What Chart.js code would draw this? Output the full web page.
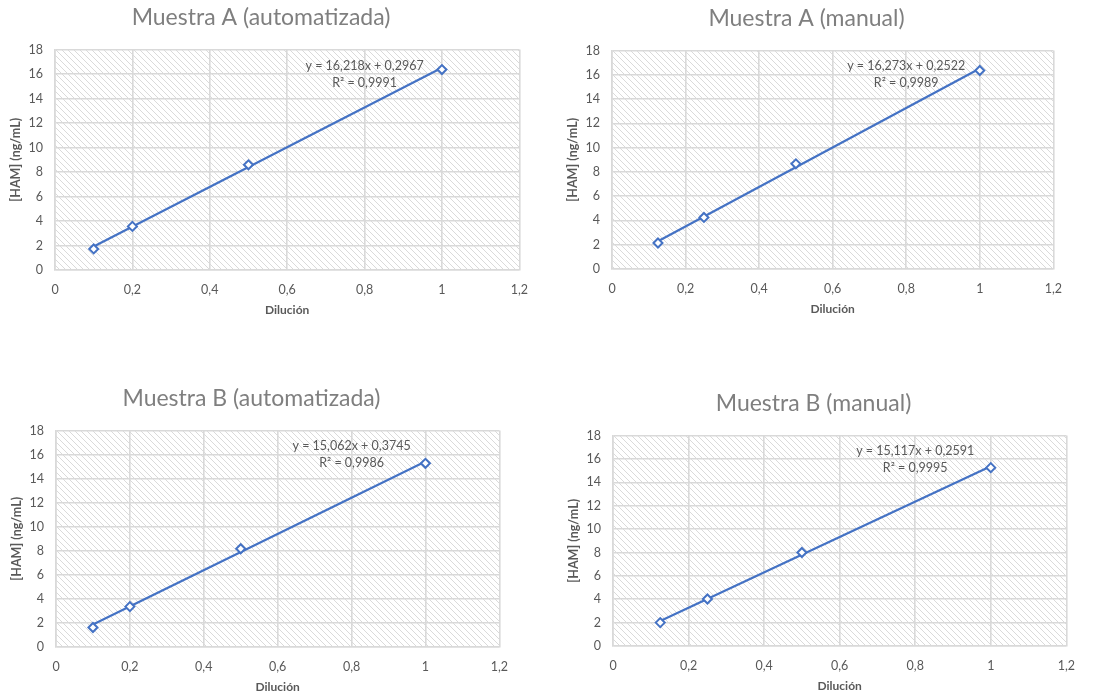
<!DOCTYPE html>
<html>
<head>
<meta charset="utf-8">
<script src="https://cdn.jsdelivr.net/npm/chart.js@4.4.1/dist/chart.umd.min.js"></script>
<style>
  html, body { margin: 0; padding: 0; background: #fff; }
  body { width: 1105px; height: 697px; position: relative; overflow: hidden; }
  .box { position: absolute; }
</style>
</head>
<body>
<div class="box" id="b0" style="left:0px;top:0px;width:540px;height:320px"><canvas id="c0"></canvas></div>
<div class="box" id="b1" style="left:557px;top:1px;width:517px;height:318px"><canvas id="c1"></canvas></div>
<div class="box" id="b2" style="left:1px;top:381px;width:519px;height:316px"><canvas id="c2"></canvas></div>
<div class="box" id="b3" style="left:558px;top:386px;width:529px;height:310px"><canvas id="c3"></canvas></div>
<script>
// datos
const titles = ['Muestra A (automatizada)', 'Muestra A (manual)', 'Muestra B (automatizada)', 'Muestra B (manual)'];
const xTickLabels = ['0', '0,2', '0,4', '0,6', '0,8', '1', '1,2'];
const xTitle = 'Dilución';
const yTitle = '[HAM] (ng/mL)';

const dilAuto = [0.1, 0.2, 0.5, 1];
const dilManual = [0.125, 0.25, 0.5, 1];

const hamAAuto = [1.72, 3.56, 8.59, 16.37];
const hamAManual = [2.14, 4.25, 8.67, 16.36];
const hamBAuto = [1.62, 3.36, 8.17, 15.28];
const hamBManual = [2.0, 4.02, 8.0, 15.26];

const slopes = [16.218, 16.273, 15.062, 15.117];
const intercepts = [0.2967, 0.2522, 0.3745, 0.2591];
const eqLabels = ['y = 16,218x + 0,2967', 'y = 16,273x + 0,2522', 'y = 15,062x + 0,3745', 'y = 15,117x + 0,2591'];
const r2Labels = ['R² = 0,9991', 'R² = 0,9989', 'R² = 0,9986', 'R² = 0,9995'];

const series = [
  { x: dilAuto, y: hamAAuto },
  { x: dilManual, y: hamAManual },
  { x: dilAuto, y: hamBAuto },
  { x: dilManual, y: hamBManual }
];

const blue = '#4472c4';
const grey = '#595959';
const gridGrey = '#d9d9d9';

Chart.defaults.font.family = 'Lato, "Open Sans", sans-serif';
Chart.defaults.color = grey;

// fondo rayado del area de trazado
function hatch() {
  const c = document.createElement('canvas');
  c.width = 6; c.height = 6;
  const g = c.getContext('2d');
  g.strokeStyle = '#dadada';
  g.lineWidth = 1;
  g.beginPath();
  g.moveTo(-1, -1); g.lineTo(7, 7);
  g.moveTo(-1, 5); g.lineTo(1, 7);
  g.moveTo(5, -1); g.lineTo(7, 1);
  g.stroke();
  return c;
}
const hatchCanvas = hatch();

const hatchBg = {
  id: 'hatchBg',
  beforeDraw(chart) {
    const { ctx, chartArea: a } = chart;
    ctx.save();
    ctx.fillStyle = ctx.createPattern(hatchCanvas, 'repeat');
    ctx.fillRect(a.left, a.top, a.right - a.left, a.bottom - a.top);
    ctx.restore();
  }
};

const equation = {
  id: 'equation',
  afterDatasetsDraw(chart, args, opts) {
    const { ctx, scales } = chart;
    const px = scales.x.getPixelForValue(0.8);
    const py = scales.y.getPixelForValue(16.7);
    ctx.save();
    ctx.font = '12.5px Lato, "Open Sans", sans-serif';
    ctx.fillStyle = grey;
    ctx.textAlign = 'center';
    ctx.textBaseline = 'middle';
    ctx.fillText(opts.eq, px, py);
    ctx.fillText(opts.r2, px, py + 17);
    ctx.restore();
  }
};

function makeChart(i) {
  const s = series[i];
  const pts = s.x.map((x, k) => ({ x: x, y: s.y[k] }));
  const x0 = s.x[0], x1 = s.x[s.x.length - 1];
  const trend = [
    { x: x0, y: slopes[i] * x0 + intercepts[i] },
    { x: x1, y: slopes[i] * x1 + intercepts[i] }
  ];
  return new Chart(document.getElementById('c' + i), {
    type: 'scatter',
    data: {
      datasets: [{
        data: pts,
        showLine: false,
        pointStyle: 'rectRot',
        pointRadius: 4.5,
        pointBorderWidth: 2,
        pointBackgroundColor: '#ffffff',
        pointBorderColor: blue
      }, {
        data: trend,
        showLine: true,
        borderColor: blue,
        borderWidth: 2.2,
        pointRadius: 0
      }]
    },
    options: {
      responsive: true,
      maintainAspectRatio: false,
      animation: false,
      layout: { padding: { right: 18 } },
      plugins: {
        legend: { display: false },
        tooltip: { enabled: false },
        title: {
          display: true,
          text: titles[i],
          color: '#7f7f7f',
          font: { size: 23, weight: 'normal', lineHeight: 1.2 },
          padding: { top: 4, bottom: 18 }
        },
        equation: { eq: eqLabels[i], r2: r2Labels[i] }
      },
      scales: {
        x: {
          type: 'linear',
          min: 0, max: 1.2,
          afterFit(scale) { scale.height = 50; },
          ticks: {
            stepSize: 0.2,
            padding: 12,
            font: { size: 12.5 },
            color: grey,
            callback: (v, k) => xTickLabels[k]
          },
          grid: { color: gridGrey, lineWidth: 1.6, drawTicks: false },
          border: { color: gridGrey, width: 1.6 },
          title: { display: true, text: xTitle, color: grey, font: { size: 12, weight: 'bold' }, padding: { bottom: 3 } }
        },
        y: {
          min: 0, max: 18,
          afterFit(scale) { scale.width = 55; },
          ticks: { stepSize: 2, padding: 12, font: { size: 12.5 }, color: grey },
          grid: { color: gridGrey, lineWidth: 1.6, drawTicks: false },
          border: { color: gridGrey, width: 1.6 },
          title: { display: true, text: yTitle, color: grey, font: { size: 12.5, weight: 'bold' }, padding: { top: 8 } }
        }
      }
    },
    plugins: [hatchBg, equation]
  });
}

for (let i = 0; i < 4; i++) makeChart(i);
</script>
</body>
</html>
